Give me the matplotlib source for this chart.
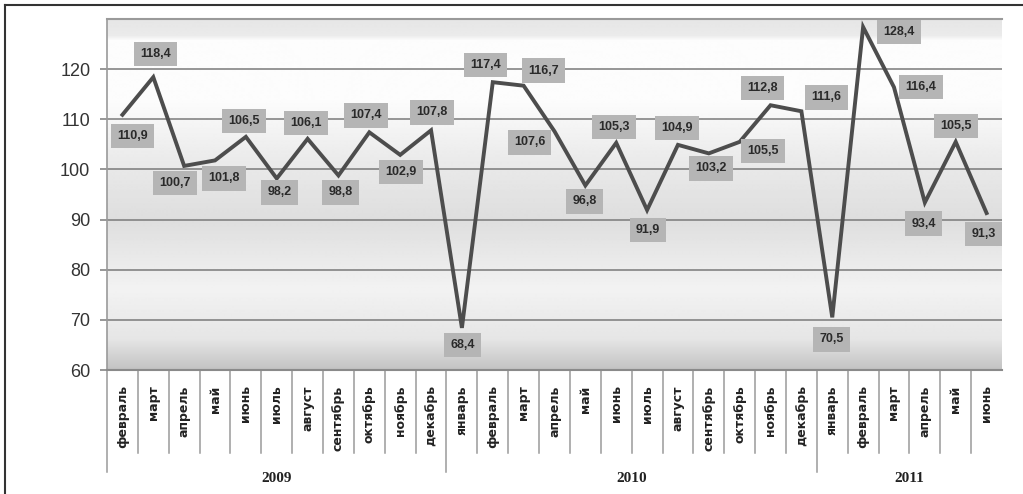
import matplotlib; matplotlib.use("Agg")
import matplotlib.pyplot as plt, numpy as np
import matplotlib.transforms as mtransforms
from matplotlib.lines import Line2D

# data (index, % to previous month)
years = ["2009", "2010", "2011"]
months_2009 = ["февраль", "март", "апрель", "май", "июнь", "июль", "август", "сентябрь", "октябрь", "ноябрь", "декабрь"]
months_2010 = ["январь", "февраль", "март", "апрель", "май", "июнь", "июль", "август", "сентябрь", "октябрь", "ноябрь", "декабрь"]
months_2011 = ["январь", "февраль", "март", "апрель", "май", "июнь"]
values_2009 = [110.9, 118.4, 100.7, 101.8, 106.5, 98.2, 106.1, 98.8, 107.4, 102.9, 107.8]
values_2010 = [68.4, 117.4, 116.7, 107.6, 96.8, 105.3, 91.9, 104.9, 103.2, 105.5, 112.8, 111.6]
values_2011 = [70.5, 128.4, 116.4, 93.4, 105.5, 91.3]

# label placement, pixels relative to the point (right, down)
lab_dx = [10, 2, -9, 9, -2, 3, -2, 2, -3, 1, 1, 1, -7, 20, -25, -1, -2, 1, -1, 2, 23, -8, 25, -1, 36, 27, -1, 0, -3]
lab_dy = [21, -23, 17, 18, -16, 14, -16, 17, -17, 17, -18, 17, -17, -15, 11, 16, -16, 20, -17, 15, 9, -17, -14, 22, 5, 0, 21, -16, 21]

month_groups = [months_2009, months_2010, months_2011]
months = months_2009 + months_2010 + months_2011
values = values_2009 + values_2010 + values_2011
x = np.arange(len(values))

fig = plt.figure(figsize=(10.23, 4.94), dpi=100)
ax = fig.add_axes([107/1023, 124/494, 895/1023, 351/494])

# gradient background
stops_y = [0, 16, 21, 80, 140, 200, 270, 320, 351]
stops_c = [0.90, 0.92, 0.99, 0.99, 0.92, 0.87, 0.95, 0.90, 0.76]
g = np.interp(np.arange(352), stops_y, stops_c)
ax.imshow(np.repeat(g[:, None], 2, axis=1), cmap="gray", vmin=0, vmax=1, aspect="auto",
          extent=(-0.5, len(values) - 0.5, 60, 130), zorder=0, interpolation="bilinear")

ax.set_xlim(-0.5, len(values) - 0.5)
ax.set_ylim(60, 130)
ax.set_yticks(range(60, 121, 10))
for yv in range(70, 121, 10):
    ax.axhline(yv, color="#7a7a7a", lw=1.1, zorder=1)
ax.plot(x, values, color="#4d4d4d", lw=2.8, zorder=3, solid_joinstyle="miter")

for i, v in enumerate(values):
    ax.annotate(f"{v:.1f}".replace(".", ","), (x[i], v), xytext=(lab_dx[i], -lab_dy[i]),
                textcoords="offset pixels", ha="center", va="center", fontsize=9,
                fontweight="bold", family="Liberation Sans", color="#2a2a2a", zorder=4,
                bbox=dict(boxstyle="square,pad=0.5", fc="#b5b5b5", ec="none"))

ax.spines["right"].set_visible(False)
ax.spines["top"].set_color("#9a9a9a"); ax.spines["top"].set_linewidth(1.5)
ax.spines["bottom"].set_color("#8a8a8a"); ax.spines["bottom"].set_linewidth(1.5)
ax.spines["left"].set_color("#9a9a9a"); ax.spines["left"].set_linewidth(1.2)
ax.tick_params(axis="y", length=5, width=1.1, color="#7a7a7a", pad=7, labelsize=13, labelcolor="#333333")
for t in ax.get_yticklabels():
    t.set_family("Liberation Sans")
ax.set_xticks(x)
ax.set_xticklabels(months, rotation=90, fontsize=9, fontweight="bold", color="#222222")
ax.tick_params(axis="x", length=0, pad=11)

# category separators and year groups
tr = mtransforms.blended_transform_factory(ax.transData, ax.transAxes)
starts = np.cumsum([0] + [len(m) for m in month_groups])
for k in range(len(values)):
    low = -0.291 if k in starts else -0.237
    ax.plot([k - 0.5, k - 0.5], [0, low], transform=tr, color="#9a9a9a", lw=1.1, clip_on=False)
for j, yr in enumerate(years):
    ax.text((starts[j] + starts[j + 1] - 1) / 2, -0.308, yr, transform=tr, ha="center", va="center",
            fontsize=11, fontweight="bold", family="Liberation Serif", color="#222222")

# outer frame of the figure
fig.add_artist(Line2D([5/1023, 1], [1 - 5/494, 1 - 5/494], color="#333333", lw=1.5))
fig.add_artist(Line2D([5/1023, 5/1023], [0, 1 - 5/494], color="#333333", lw=1.5))

fig.savefig("out.png", dpi=100)
